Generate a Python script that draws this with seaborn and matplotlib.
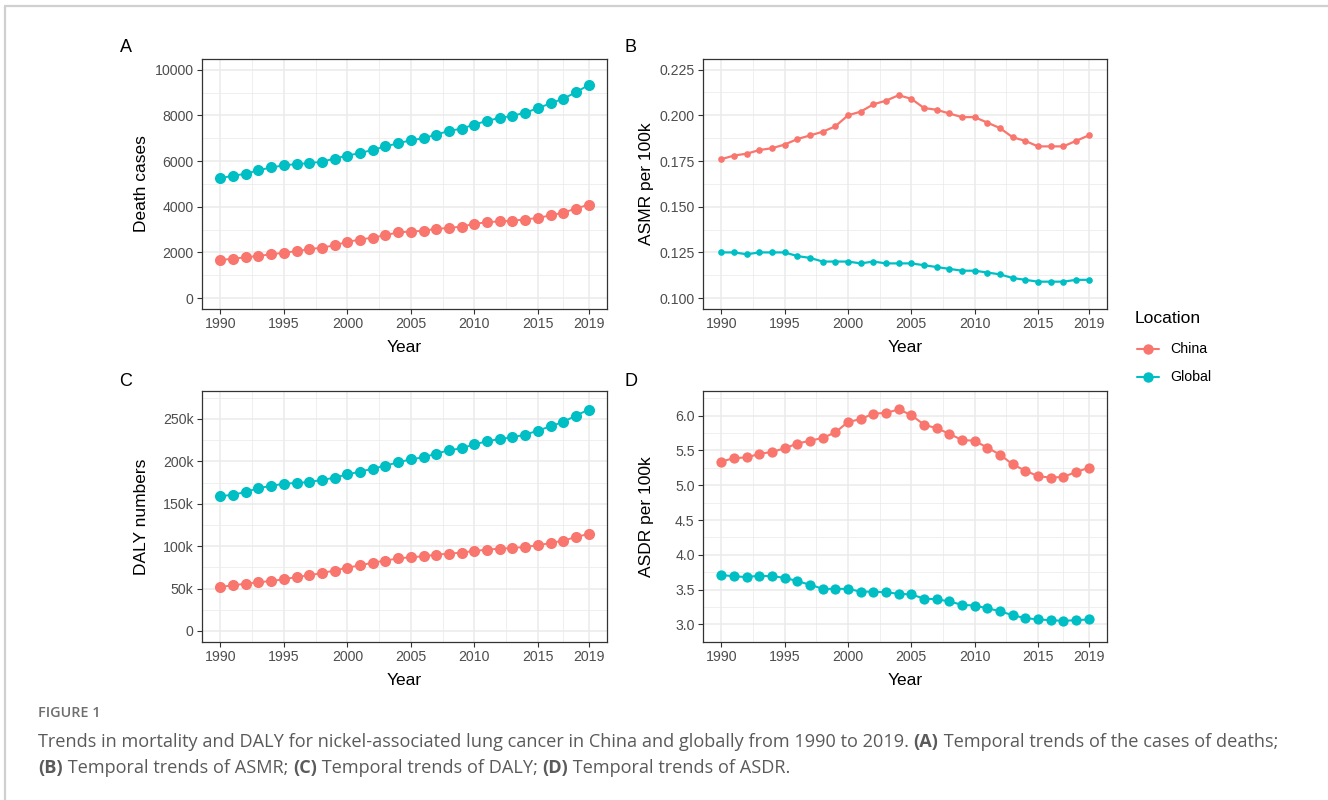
import numpy as np
import pandas as pd
import matplotlib
matplotlib.use("Agg")
import matplotlib.pyplot as plt
from matplotlib.lines import Line2D
from matplotlib.ticker import FixedLocator, FuncFormatter
import seaborn as sns

years = list(range(1990, 2020))
locations = ["China", "Global"]

deaths_china = [1660, 1730, 1780, 1850, 1910, 1990, 2050, 2140, 2210, 2310,
                2460, 2560, 2650, 2750, 2880, 2910, 2950, 3030, 3070, 3130,
                3250, 3320, 3360, 3390, 3440, 3510, 3620, 3740, 3920, 4090]
deaths_global = [5250, 5360, 5440, 5600, 5720, 5810, 5870, 5910, 5970, 6110,
                 6240, 6350, 6490, 6640, 6780, 6910, 7000, 7160, 7320, 7420,
                 7600, 7760, 7890, 7980, 8120, 8310, 8530, 8730, 9010, 9330]

asmr_china = [0.176, 0.178, 0.179, 0.181, 0.182, 0.184, 0.187, 0.189, 0.191, 0.194,
              0.200, 0.202, 0.206, 0.208, 0.211, 0.209, 0.204, 0.203, 0.201, 0.199,
              0.199, 0.196, 0.193, 0.188, 0.186, 0.183, 0.183, 0.183, 0.186, 0.189]
asmr_global = [0.125, 0.125, 0.124, 0.125, 0.125, 0.125, 0.123, 0.122, 0.120, 0.120,
               0.120, 0.119, 0.120, 0.119, 0.119, 0.119, 0.118, 0.117, 0.116, 0.115,
               0.115, 0.114, 0.113, 0.111, 0.110, 0.109, 0.109, 0.109, 0.110, 0.110]

daly_china = [51900, 53900, 55800, 57400, 59000, 60900, 63700, 65600, 68400, 71200,
              74700, 77400, 80600, 82900, 85700, 86900, 88100, 90000, 91200, 92400,
              94300, 95900, 97100, 97900, 99100, 101000, 103800, 106500, 110800, 114400]
daly_global = [158800, 160800, 163900, 168600, 171000, 173700, 174500, 175700, 178100, 180800,
               184700, 187900, 191400, 195000, 198900, 202400, 204800, 209100, 213100, 215400,
               220100, 223700, 226400, 228400, 231500, 236200, 241400, 246500, 254000, 261000]

asdr_china = [5.34, 5.39, 5.40, 5.45, 5.48, 5.53, 5.60, 5.64, 5.68, 5.76,
              5.91, 5.95, 6.03, 6.04, 6.09, 6.01, 5.87, 5.82, 5.74, 5.65,
              5.64, 5.54, 5.44, 5.30, 5.21, 5.13, 5.11, 5.12, 5.19, 5.25]
asdr_global = [3.71, 3.69, 3.68, 3.70, 3.69, 3.67, 3.62, 3.57, 3.51, 3.51,
               3.51, 3.47, 3.47, 3.46, 3.44, 3.43, 3.37, 3.36, 3.33, 3.28,
               3.27, 3.23, 3.19, 3.13, 3.09, 3.07, 3.06, 3.05, 3.06, 3.07]

x_ticks = [1990, 1995, 2000, 2005, 2010, 2015, 2019]
palette = {"China": "#F8766D", "Global": "#00BFC4"}

def make_df(c, g, name):
    return pd.DataFrame({
        "Year": years * 2,
        "Location": ["China"] * len(years) + ["Global"] * len(years),
        name: list(c) + list(g),
    })

sns.set_theme(style="white")
plt.rcParams["font.family"] = ["Liberation Sans", "DejaVu Sans"]

W, H = 1328, 800
fig = plt.figure(figsize=(W / 100, H / 100), dpi=100)

def ax_at(l, t, r, b):
    return fig.add_axes([l / W, 1 - b / H, (r - l) / W, (b - t) / H])

panels = [
    dict(box=(202, 59, 607, 309), c=deaths_china, g=deaths_global, name="Death cases",
         yt=[0, 2000, 4000, 6000, 8000, 10000], ylim=(-480, 10470), ms=8.0, lw=1.4,
         fmt=lambda v, p: f"{int(v)}", label="A", lab=(126, 48), ylx=141),
    dict(box=(703, 59, 1107, 309), c=asmr_china, g=asmr_global, name="ASMR per 100k",
         yt=[0.100, 0.125, 0.150, 0.175, 0.200, 0.225], ylim=(0.09405, 0.2308), ms=4.8, lw=1.6,
         fmt=lambda v, p: f"{v:.3f}", label="B", lab=(630, 48), ylx=646),
    dict(box=(202, 391, 607, 642), c=daly_china, g=daly_global, name="DALY numbers",
         yt=[0, 50000, 100000, 150000, 200000, 250000], ylim=(-13000, 283000), ms=8.0, lw=1.4,
         fmt=lambda v, p: "0" if v == 0 else f"{int(v/1000)}k", label="C", lab=(126, 381), ylx=141),
    dict(box=(703, 391, 1107, 642), c=asdr_china, g=asdr_global, name="ASDR per 100k",
         yt=[3.0, 3.5, 4.0, 4.5, 5.0, 5.5, 6.0], ylim=(2.746, 6.355), ms=7.4, lw=1.5,
         fmt=lambda v, p: f"{v:.1f}", label="D", lab=(631, 381), ylx=646),
]

for p in panels:
    l, t, r, b = p["box"]
    ax = ax_at(l, t, r, b)
    df = make_df(p["c"], p["g"], p["name"])
    sns.lineplot(data=df, x="Year", y=p["name"], hue="Location", palette=palette,
                 marker="o", markersize=p["ms"], markeredgewidth=0, linewidth=p["lw"],
                 legend=False, ax=ax, zorder=3)
    ax.set_xlim(1988.55, 2020.45)
    ax.set_ylim(*p["ylim"])
    ax.xaxis.set_major_locator(FixedLocator(x_ticks))
    xm = [(a + b2) / 2 for a, b2 in zip(x_ticks[:-1], x_ticks[1:])]
    ax.xaxis.set_minor_locator(FixedLocator(xm))
    yt = p["yt"]
    ax.yaxis.set_major_locator(FixedLocator(yt))
    step = yt[1] - yt[0]
    ym = [yt[0] - step / 2] + [v + step / 2 for v in yt]
    ax.yaxis.set_minor_locator(FixedLocator(ym))
    ax.yaxis.set_major_formatter(FuncFormatter(p["fmt"]))
    ax.grid(which="major", color="#EBEBEB", linewidth=1.1, zorder=0)
    ax.grid(which="minor", color="#EBEBEB", linewidth=0.55, zorder=0)
    ax.set_axisbelow(True)
    for s in ax.spines.values():
        s.set_color("#333333")
        s.set_linewidth(0.9)
        s.set_visible(True)
    ax.tick_params(which="major", length=3.5, width=0.8, color="#333333",
                   labelsize=10.2, labelcolor="#4D4D4D", pad=2.5,
                   bottom=True, left=True)
    ax.tick_params(which="minor", length=0)
    ax.set_xlabel("Year", fontsize=12.5, color="black", labelpad=6)
    ax.set_ylabel("")
    fig.text(p["ylx"] / W, 1 - ((t + b) / 2) / H, p["name"], rotation=90,
             ha="center", va="center", fontsize=12.5, color="black")
    fig.text(p["lab"][0] / W, 1 - p["lab"][1] / H, p["label"], ha="center", va="center",
             fontsize=13, color="black")

# legend
fig.text(1135 / W, 1 - 319 / H, "Location", ha="left", va="center", fontsize=12.6, color="black")
for i, loc in enumerate(locations):
    yy = 349 + i * 28
    fig.add_artist(Line2D([1137 / W, 1159 / W], [1 - yy / H, 1 - yy / H], color=palette[loc],
                          linewidth=1.5, marker="", transform=fig.transFigure))
    fig.add_artist(Line2D([1148 / W], [1 - yy / H], color=palette[loc], marker="o",
                          markersize=7.5, markeredgewidth=0, transform=fig.transFigure))
    fig.text(1170 / W, 1 - yy / H, loc, ha="left", va="center", fontsize=10.2, color="black")

# frame lines
fig.add_artist(Line2D([5 / W, 1], [1 - 6 / H, 1 - 6 / H], color="#D0D0D0", linewidth=1.6,
                      transform=fig.transFigure))
fig.add_artist(Line2D([5 / W, 5 / W], [1 - 6 / H, 0], color="#D0D0D0", linewidth=1.6,
                      transform=fig.transFigure))

# caption
cap_font = ["Open Sans", "DejaVu Sans"]
cap_col = "#5A5A5A"
fig.text(38 / W, 1 - 713 / H, "FIGURE 1", ha="left", va="center", fontsize=10.4,
         color="#6E6E6E", fontweight="semibold", family=cap_font)

renderer = fig.canvas.get_renderer()

def write_line(pieces, x0, y):
    x = x0
    for txt, bold in pieces:
        t = fig.text(x / W, 1 - y / H, txt, ha="left", va="center", fontsize=13.1,
                     color=cap_col, family=cap_font, fontweight="bold" if bold else "normal")
        bb = t.get_window_extent(renderer=renderer)
        x += bb.width

write_line([("Trends in mortality and DALY for nickel-associated lung cancer in China and globally from 1990 to 2019. ", False),
            ("(A)", True), (" Temporal trends of the cases of deaths;", False)], 38, 742)
write_line([("(B)", True), (" Temporal trends of ASMR; ", False), ("(C)", True),
            (" Temporal trends of DALY; ", False), ("(D)", True), (" Temporal trends of ASDR.", False)], 38, 768)

fig.savefig("out.png", dpi=100, facecolor="white")
